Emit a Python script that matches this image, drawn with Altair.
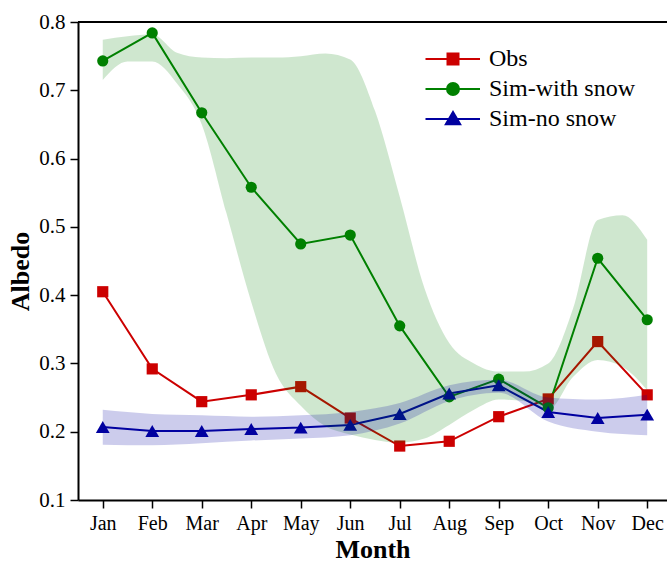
import altair as alt
import pandas as pd

months = ["Jan", "Feb", "Mar", "Apr", "May", "Jun", "Jul", "Aug", "Sep", "Oct", "Nov", "Dec"]
month_num = list(range(1, 13))
obs = [0.405, 0.292, 0.244, 0.254, 0.266, 0.220, 0.179, 0.186, 0.222, 0.248, 0.332, 0.254]
sim_snow = [0.743, 0.784, 0.667, 0.558, 0.475, 0.488, 0.355, 0.251, 0.277, 0.235, 0.454, 0.364]
sim_nosnow = [0.207, 0.201, 0.201, 0.204, 0.206, 0.210, 0.226, 0.256, 0.268, 0.229, 0.220, 0.225]

series = ["Obs", "Sim-with snow", "Sim-no snow"]
colors = ["#cc0000", "#008000", "#0000a0"]
shapes = ["square", "circle", "triangle-up"]
marker_sizes = [125, 125, 190]

band_x = [1.0, 1.5, 2.0, 2.5, 3.0, 3.5, 4.0, 4.5, 5.0, 5.5, 6.0, 6.5,
          7.0, 7.5, 8.0, 8.5, 9.0, 9.5, 10.0, 10.5, 11.0, 11.5, 12.0]
snow_upper = [0.774, 0.779, 0.782, 0.755, 0.748, 0.747, 0.748, 0.748, 0.750, 0.754, 0.745, 0.670,
              0.544, 0.410, 0.330, 0.300, 0.288, 0.288, 0.300, 0.380, 0.510, 0.517, 0.481]
snow_lower = [0.715, 0.742, 0.742, 0.710, 0.650, 0.520, 0.390, 0.285, 0.238, 0.208, 0.196, 0.188,
              0.184, 0.190, 0.210, 0.232, 0.247, 0.245, 0.232, 0.280, 0.305, 0.295, 0.261]
nosnow_upper = [0.232, 0.226, 0.224, 0.222, 0.224, 0.229, 0.242, 0.268, 0.276, 0.250, 0.247, 0.254]
nosnow_lower = [0.181, 0.180, 0.183, 0.187, 0.190, 0.195, 0.212, 0.245, 0.257, 0.215, 0.200, 0.195]

FONT = "Liberation Serif"

rows = []
for name, vals in zip(series, [obs, sim_snow, sim_nosnow]):
    for m, v in zip(month_num, vals):
        rows.append({"month": m, "albedo": v, "series": name})
df = pd.DataFrame(rows)

snow_band = pd.DataFrame({"month": band_x, "lo": snow_lower, "hi": snow_upper})
nosnow_band = pd.DataFrame({"month": month_num, "lo": nosnow_lower, "hi": nosnow_upper})

# legend symbol paths: a line segment with the marker in the middle
legend_paths = [
    "M-2.75,0H2.7M-0.55,-0.55H0.55V0.55H-0.55Z",
    "M-2.75,0H2.7M-0.6,0A0.6,0.6,0,1,1,0.6,0A0.6,0.6,0,1,1,-0.6,0Z",
    "M-2.75,0H2.7M0,-0.7L0.72,0.52L-0.72,0.52Z",
]

month_expr = "[" + ",".join(f"'{m}'" for m in months) + "][datum.value - 1]"
y_ticks = [round(0.1 + 0.05 * i, 2) for i in range(15)]

x_scale = alt.Scale(domain=[0.5, 12.4], nice=False, zero=False)
y_scale = alt.Scale(domain=[0.1, 0.8], nice=False, zero=False)

x_axis = alt.Axis(values=month_num, labelExpr=month_expr, title="Month", grid=False)
y_axis = alt.Axis(values=y_ticks,
                  labelExpr="round(datum.value*100) % 10 === 0 ? format(datum.value, '.1f') : ''",
                  title="Albedo", grid=False, titleY=249, labelFontSize=21)

color_scale = alt.Scale(domain=series, range=colors)

legend = alt.Legend(
    title=None, orient="none", legendX=363, legendY=25,
    symbolSize=400, symbolStrokeWidth=2, symbolOpacity=1, labelOffset=24,
    labelFont=FONT, labelFontSize=24, labelColor="black",
    rowPadding=6,
)

layers = []
# legend-defining layer (invisible marks)
layers.append(
    alt.Chart(df).mark_point(filled=True, opacity=0).encode(
        x=alt.X("month:Q", scale=x_scale, axis=x_axis),
        y=alt.Y("albedo:Q", scale=y_scale, axis=y_axis),
        color=alt.Color("series:N", scale=color_scale, legend=legend),
        stroke=alt.Stroke("series:N", scale=color_scale, legend=legend),
        shape=alt.Shape("series:N", scale=alt.Scale(domain=series, range=legend_paths), legend=legend),
    )
)

for name, col, shp, sz in zip(series, colors, shapes, marker_sizes):
    base = alt.Chart(df).transform_filter(alt.datum.series == name)
    layers.append(
        base.mark_line(strokeWidth=2, color=col).encode(
            x=alt.X("month:Q", scale=x_scale),
            y=alt.Y("albedo:Q", scale=y_scale),
        )
    )
for name, col, shp, sz in zip(series, colors, shapes, marker_sizes):
    base = alt.Chart(df).transform_filter(alt.datum.series == name)
    layers.append(
        base.mark_point(filled=True, opacity=1, shape=shp, size=sz, color=col).encode(
            x=alt.X("month:Q", scale=x_scale),
            y=alt.Y("albedo:Q", scale=y_scale),
        )
    )

layers.append(
    alt.Chart(snow_band).mark_area(color="#008000", opacity=0.19, interpolate="monotone").encode(
        x=alt.X("month:Q", scale=x_scale),
        y=alt.Y("lo:Q", scale=y_scale),
        y2="hi:Q",
    )
)
layers.append(
    alt.Chart(nosnow_band).mark_area(color="#0000a0", opacity=0.2, interpolate="monotone").encode(
        x=alt.X("month:Q", scale=x_scale),
        y=alt.Y("lo:Q", scale=y_scale),
        y2="hi:Q",
    )
)
layers.append(
    alt.Chart(pd.DataFrame({"v": [0.8]})).mark_rule(color="black", strokeWidth=2).encode(
        y=alt.Y("v:Q", scale=y_scale)
    )
)

chart = alt.layer(*layers).properties(
    width=589, height=478,
    autosize=alt.AutoSizeParams(type="none"),
    padding={"left": 78, "top": 22, "right": 0, "bottom": 62},
).configure_view(stroke=None).configure_axis(
    domainColor="black", domainWidth=2, tickColor="black", tickWidth=1.5, tickSize=8,
    labelFont=FONT, labelFontSize=20, labelColor="black", labelPadding=5,
    titleFont=FONT, titleFontSize=26, titleFontWeight="bold", titleColor="black",
).configure_axisY(titlePadding=5).configure_axisX(titlePadding=3).configure_legend(
    labelFont=FONT, labelFontSize=24, labelColor="black",
)

chart.save("out.html", embed_options={"renderer": "svg", "actions": False})
